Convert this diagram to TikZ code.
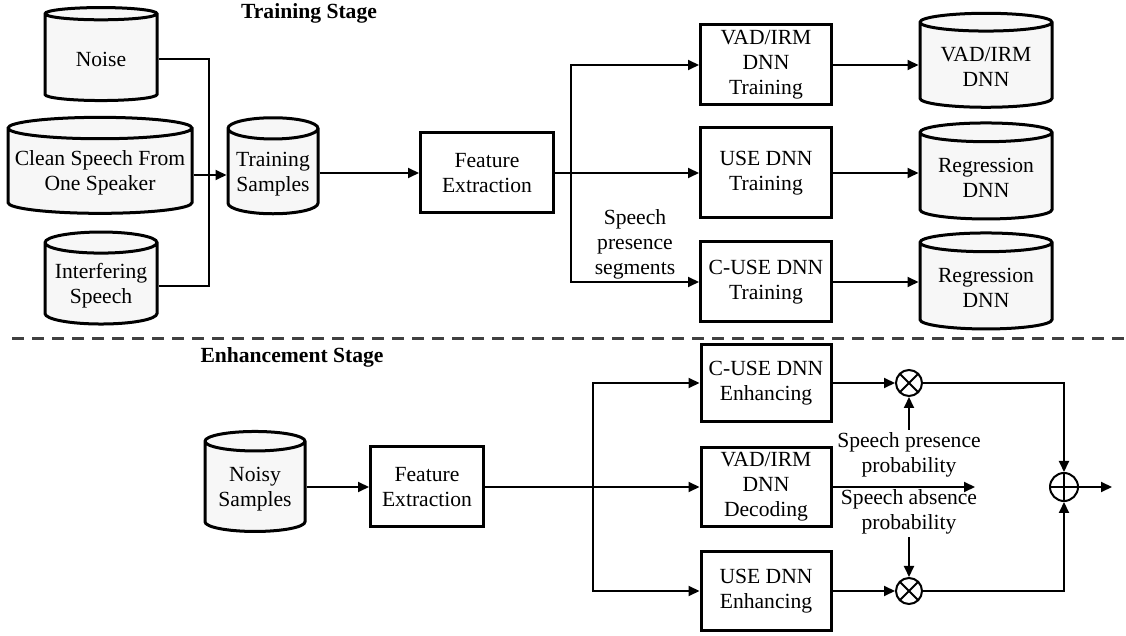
\documentclass[tikz,border=0pt]{standalone}
\usepackage{fontspec}
\setmainfont{Liberation Serif}
\usetikzlibrary{arrows.meta,shapes.geometric}

\begin{document}
\begin{tikzpicture}[x=0.5pt, y=-0.5pt, line width=1pt,
  font=\fontsize{10.8}{12.5}\selectfont, >={Triangle[length=5.5pt, width=5pt]},
  blk/.style={draw, line width=1.5pt, fill=white, inner sep=2pt, align=center},
  drum/.style={cylinder, shape border rotate=90, draw, line width=1.5pt, aspect=0.2,
    cylinder uses custom fill, cylinder body fill=gray!6, cylinder end fill=gray!6,
    inner sep=2pt, align=center},
  op/.style={circle, draw, minimum size=13pt, inner sep=0pt},
  mult/.style={op, path picture={\draw (path picture bounding box.north west) -- (path picture bounding box.south east)
    (path picture bounding box.north east) -- (path picture bounding box.south west);}},
  addop/.style={op, minimum size=14pt, path picture={\draw (path picture bounding box.north) -- (path picture bounding box.south)
    (path picture bounding box.east) -- (path picture bounding box.west);}},
  title/.style={font=\fontsize{10.8}{12.5}\selectfont\bfseries},
  lbl/.style={inner sep=1pt},
  every node/.style={align=center}]
\useasboundingbox (0,0) rectangle (1126,636);

% training stage
\node[title] (ttl) at (309,13) {Training Stage};
\node[drum, aspect=0.21, minimum width=56pt, minimum height=46.5pt] (noise) at (101,59) {Noise};
\node[drum, aspect=0.12, minimum width=92pt, minimum height=48pt] (clean) at (100,173) {Clean Speech From\\One Speaker};
\node[drum, aspect=0.21, minimum width=56pt, minimum height=46pt] (interf) at (101,286) {Interfering\\Speech};
\node[drum, aspect=0.26, minimum width=45pt, minimum height=48pt] (tsamp) at (273,174) {Training\\Samples};
\node[blk, minimum width=66.5pt, minimum height=40pt] (feat) at (487,173) {Feature\\Extraction};
\node[blk, minimum width=65.5pt, minimum height=40pt] (vadt) at (766,65) {VAD/IRM\\DNN\\Training};
\node[blk, minimum width=65.5pt, minimum height=45pt] (uset) at (766,173) {USE DNN\\Training};
\node[blk, minimum width=65.5pt, minimum height=40pt] (cuset) at (766,282) {C-USE DNN\\Training};
\node[drum, aspect=0.18, minimum width=66pt, minimum height=47pt] (vadm) at (986,67) {VAD/IRM\\DNN};
\node[drum, aspect=0.18, minimum width=66pt, minimum height=48pt] (reg1) at (986,178) {Regression\\DNN};
\node[drum, aspect=0.18, minimum width=66pt, minimum height=48pt] (reg2) at (986,288) {Regression\\DNN};
\node[lbl] (seg) at (635,244) {Speech\\presence\\segments};
\coordinate (mix) at (209,175);
\coordinate (fork) at (571,173);

\draw (noise.east) -| (mix) |- (interf.east);
\draw[->] (clean.east |- mix) -- (tsamp.west |- mix);
\draw[->] (tsamp.east |- feat) -- (feat);
\draw[->] (feat) -- (uset);
\draw[->] (fork) |- (vadt);
\draw[->] (fork) |- (cuset);
\draw[->] (vadt) -- (vadt -| vadm.west);
\draw[->] (uset) -- (uset -| reg1.west);
\draw[->] (cuset) -- (cuset -| reg2.west);

% stage separator
\coordinate (sepl) at (12,339);
\coordinate (sepr) at (1126,339);
\draw[dash pattern=on 6pt off 4pt, line width=1.5pt, black!75] (sepl) -- (sepr);

% enhancement stage
\node[title] (etl) at (292,357) {Enhancement Stage};
\node[drum, aspect=0.24, minimum width=50pt, minimum height=50pt] (noisy) at (255,489) {Noisy\\Samples};
\node[blk, minimum width=56.5pt, minimum height=40pt] (feat2) at (427,487) {Feature\\Extraction};
\node[blk, minimum width=65pt, minimum height=38.5pt] (cusee) at (766,383) {C-USE DNN\\Enhancing};
\node[blk, minimum width=65pt, minimum height=39.5pt] (vadd) at (766,487) {VAD/IRM\\DNN\\Decoding};
\node[blk, minimum width=65pt, minimum height=39.5pt] (usee) at (766,591) {USE DNN\\Enhancing};
\node[mult] (m1) at (909,383) {};
\node[mult] (m2) at (909,591) {};
\node[addop] (sum) at (1064,487) {};
\node[lbl] (pres) at (909,455) {Speech presence\\probability};
\node[lbl] (absn) at (909,512) {Speech absence\\probability};
\coordinate (fork2) at (593,487);
\coordinate (vend) at (975,487);
\coordinate (out) at (1112,487);

\draw[->] (noisy.east |- feat2) -- (feat2);
\draw[->] (feat2) -- (vadd);
\draw[->] (fork2) |- (cusee);
\draw[->] (fork2) |- (usee);
\draw[->] (vadd) -- (vend);
\draw[->] (cusee) -- (m1);
\draw[->] (usee) -- (m2);
\draw[->] (pres) -- (m1);
\draw[->] (absn) -- (m2);
\draw[->] (m1) -| (sum);
\draw[->] (m2) -| (sum);
\draw[->] (sum) -- (out);
\end{tikzpicture}
\end{document}
